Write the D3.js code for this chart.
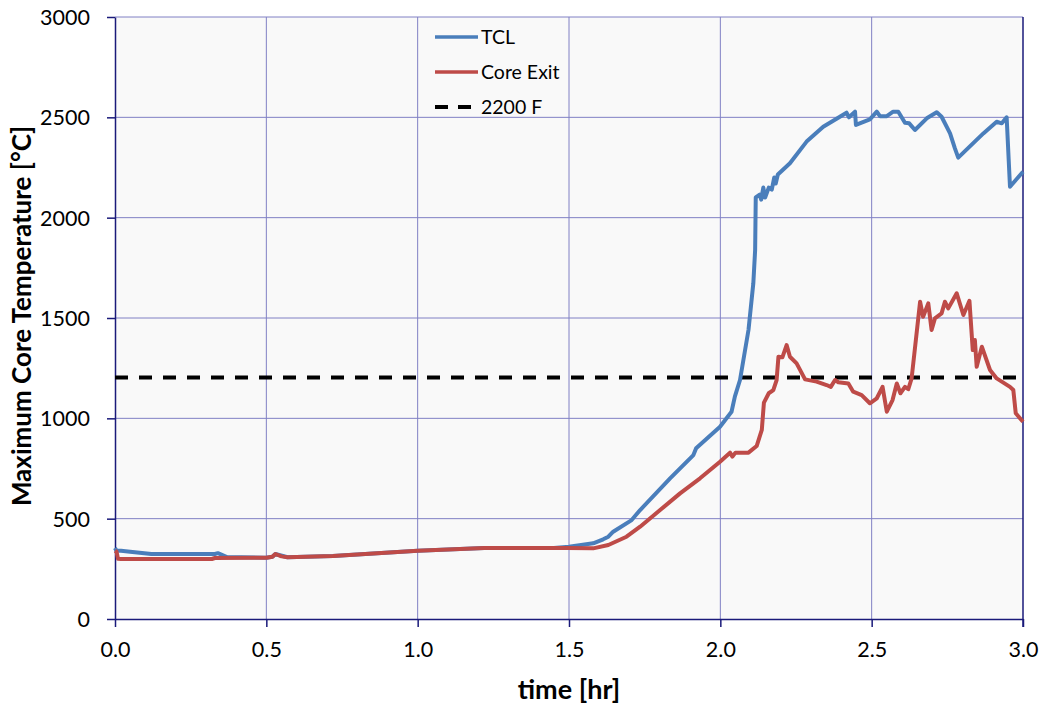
<!DOCTYPE html>
<html><head><meta charset="utf-8">
<script src="https://cdn.jsdelivr.net/npm/d3@7"></script>
<style>body{margin:0;background:#fff;} text{font-family:Lato,"Open Sans",sans-serif;}</style>
</head><body>
<svg id="c" width="1047" height="711"></svg>
<script>
const tclTime = [0,0.005,0.02,0.05,0.12,0.2,0.33,0.34,0.37,0.5,0.52,0.53,0.57,0.72,1.0,1.22,1.45,1.5,1.58,1.613,1.63,1.646,1.707,1.735,1.834,1.911,1.92,1.999,2.037,2.048,2.065,2.093,2.109,2.115,2.117,2.13,2.135,2.142,2.148,2.16,2.17,2.178,2.183,2.19,2.23,2.285,2.34,2.395,2.417,2.425,2.445,2.448,2.494,2.517,2.528,2.55,2.571,2.588,2.61,2.624,2.643,2.682,2.715,2.731,2.759,2.775,2.786,2.869,2.913,2.93,2.946,2.957,3.0];
const tclTemp = [354,340,340,335,324,324,324,328,309,305,310,324,308,314,340,354,354,360,377,397,410,435,493,543,701,817,851,958,1033,1108,1191,1440,1673,1839,2101,2115,2090,2150,2100,2150,2140,2200,2170,2215,2271,2379,2453,2503,2523,2500,2528,2462,2490,2528,2505,2506,2528,2528,2473,2470,2437,2495,2525,2503,2420,2345,2299,2420,2478,2470,2500,2154,2229];
const ceTime = [0,0.005,0.01,0.02,0.32,0.33,0.5,0.52,0.53,0.55,0.57,0.72,1.0,1.22,1.49,1.58,1.63,1.69,1.735,1.801,1.867,1.933,1.999,2.032,2.04,2.05,2.093,2.12,2.137,2.144,2.16,2.175,2.186,2.192,2.205,2.219,2.23,2.252,2.28,2.318,2.351,2.365,2.379,2.39,2.423,2.439,2.467,2.494,2.517,2.536,2.55,2.569,2.583,2.595,2.61,2.621,2.632,2.66,2.67,2.687,2.698,2.709,2.731,2.742,2.753,2.781,2.803,2.823,2.834,2.841,2.847,2.864,2.891,2.913,2.957,2.968,2.976,3.0];
const ceTemp = [340,335,300,299,299,304,305,310,324,312,308,314,340,354,354,352,369,410,460,543,626,701,784,829,809,829,829,862,942,1078,1125,1141,1191,1307,1304,1365,1307,1274,1194,1183,1166,1157,1191,1180,1174,1133,1116,1075,1100,1157,1033,1091,1174,1125,1157,1145,1199,1581,1506,1573,1440,1498,1523,1581,1548,1623,1515,1586,1340,1390,1257,1357,1241,1199,1157,1141,1025,983];
const limitTemp = 1204; // 2200 F
const xTicks = [0,0.5,1.0,1.5,2.0,2.5,3.0];
const yTicks = [0,500,1000,1500,2000,2500,3000];
const seriesNames = ["TCL","Core Exit","2200 F"];

const svg = d3.select("#c");
const L=115, R=1023, T=17, B=619;
const x = d3.scaleLinear().domain([0,3]).range([L,R]);
const y = d3.scaleLinear().domain([0,3000]).range([B,T]);
const grid = "#8080c4", axisC = "#1a1a7a";

svg.append("rect").attr("x",L).attr("y",T).attr("width",R-L).attr("height",B-T).attr("fill","#f9f9f9");
// gridlines
svg.append("g").selectAll("line").data(yTicks.filter(d=>d>0)).join("line")
  .attr("x1",L).attr("x2",R).attr("y1",d=>y(d)).attr("y2",d=>y(d)).attr("stroke",grid).attr("stroke-width",1);
svg.append("g").selectAll("line").data(xTicks.filter(d=>d>0&&d<3)).join("line")
  .attr("y1",T).attr("y2",B).attr("x1",d=>x(d)).attr("x2",d=>x(d)).attr("stroke",grid).attr("stroke-width",1);

// axes
const xAxis = d3.axisBottom(x).tickValues(xTicks).tickFormat(d3.format(".1f")).tickSizeInner(8).tickSizeOuter(0).tickPadding(15);
const gx = svg.append("g").attr("transform",`translate(0,${B})`).call(xAxis);
const yAxis = d3.axisLeft(y).tickValues(yTicks).tickFormat(d3.format("d")).tickSizeInner(8).tickSizeOuter(0).tickPadding(17);
const gy = svg.append("g").attr("transform",`translate(${L},0)`).call(yAxis);
[gx,gy].forEach(g=>{
  g.select(".domain").attr("stroke",axisC).attr("stroke-width",1.5);
  g.selectAll(".tick line").attr("stroke",axisC).attr("stroke-width",1.5);
  g.selectAll(".tick text").attr("fill","#000").style("font-size","21.5px").style("font-family","Lato");
});
gy.selectAll(".tick text").attr("dy","0.35em");
svg.append("line").attr("x1",R).attr("x2",R).attr("y1",T).attr("y2",B+8).attr("stroke",axisC).attr("stroke-width",1.5);

// series
const line = d3.line().x(d=>x(d[0])).y(d=>y(d[1]));
const tcl = tclTime.map((t,i)=>[t,tclTemp[i]]);
const ce = ceTime.map((t,i)=>[t,ceTemp[i]]);
svg.append("path").datum([[0,limitTemp],[3,limitTemp]]).attr("d",line).attr("fill","none")
  .attr("stroke","#000").attr("stroke-width",4).attr("stroke-dasharray","13,11");
svg.append("path").datum(tcl).attr("d",line).attr("fill","none").attr("stroke","#4a7ebb").attr("stroke-width",4).attr("stroke-linejoin","round");
svg.append("path").datum(ce).attr("d",line).attr("fill","none").attr("stroke","#be4b48").attr("stroke-width",4).attr("stroke-linejoin","round");

// legend
const lg = svg.append("g");
const lcol = ["#4a7ebb","#be4b48","#000"];
seriesNames.forEach((n,i)=>{
  const yy = 37 + i*35;
  const ln = lg.append("line").attr("x1",435).attr("x2",478).attr("y1",yy).attr("y2",yy).attr("stroke",lcol[i]).attr("stroke-width",i==2?4:3.5);
  if(i==2) ln.attr("stroke-dasharray","13,10");
  lg.append("text").attr("x",481).attr("y",yy).attr("dy","0.35em").style("font-size","19.5px").text(n);
});

// axis titles
svg.append("text").attr("x",569).attr("y",699).attr("text-anchor","middle").style("font-size","27px").style("font-weight","bold").text("time [hr]");
svg.append("text").attr("transform","translate(31,316) rotate(-90)").attr("text-anchor","middle").style("font-size","26px").style("font-weight","bold").text("Maximum Core Temperature [°C]");
</script>
</body></html>
